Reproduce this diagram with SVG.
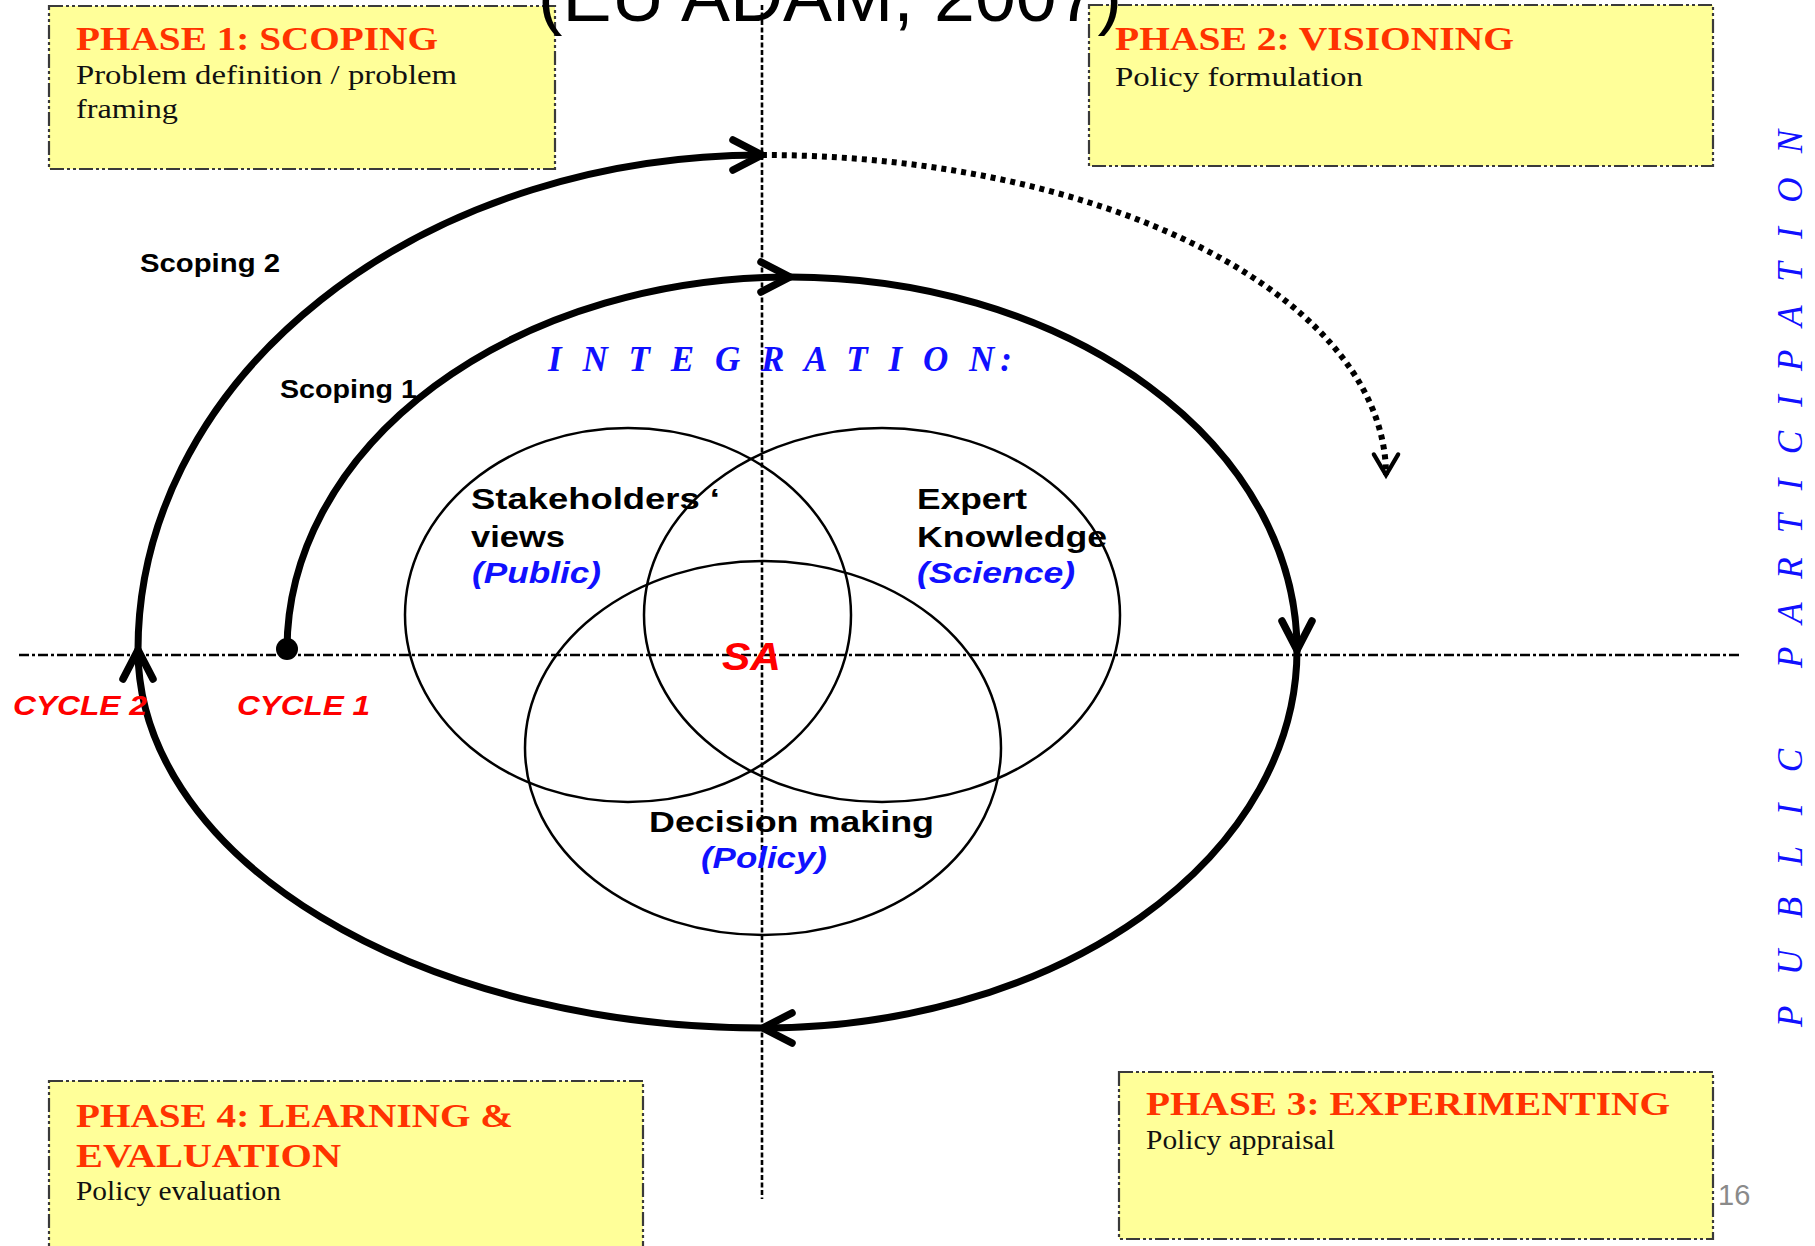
<svg xmlns="http://www.w3.org/2000/svg" width="1815" height="1246" viewBox="0 0 1815 1246">
  <style>
    .box { fill: #ffff99; stroke: #3a3a3a; stroke-width: 2.2; stroke-dasharray: 14 3 3 3 3 3; }
    .head { font-family: "Liberation Serif", "Times New Roman", serif; font-weight: bold; font-size: 34px; fill: #ff3300; }
    .body { font-family: "Liberation Serif", "Times New Roman", serif; font-size: 27px; fill: #111; }
    .lbl { font-family: "Liberation Sans", Arial, sans-serif; font-weight: bold; fill: #000; }
    .blue { font-family: "Liberation Sans", Arial, sans-serif; font-weight: bold; font-style: italic; fill: #1010ff; }
    .red { font-family: "Liberation Sans", Arial, sans-serif; font-weight: bold; font-style: italic; fill: #ff0000; }
    .venn { fill: none; stroke: #000; stroke-width: 2.5; }
    .spiral { fill: none; stroke: #000; stroke-width: 7; }
    .axis { fill: none; stroke: #000; stroke-width: 2.6; }
    .vert { font-family: "Liberation Serif", "Times New Roman", serif; font-style: italic; font-size: 35px; fill: #1010ff; }
  </style>
  <defs>
    <marker id="arrow" markerUnits="userSpaceOnUse" markerWidth="40" markerHeight="40" viewBox="-34 -20 40 40" refX="0" refY="0" orient="auto" overflow="visible">
      <path d="M -29 -15 L 0 0 L -29 15" fill="none" stroke="#000" stroke-width="7.5" stroke-linecap="round" stroke-linejoin="round"/>
    </marker>
    <marker id="arrowThin" markerUnits="userSpaceOnUse" markerWidth="30" markerHeight="30" viewBox="-26 -16 30 32" refX="0" refY="0" orient="auto" overflow="visible">
      <path d="M -22 -13 L 0 0 L -22 13" fill="none" stroke="#000" stroke-width="4.5" stroke-linecap="round"/>
    </marker>
  </defs>

  <rect width="1815" height="1246" fill="#ffffff"/>

  <!-- phase boxes -->
  <g id="phase1">
    <rect class="box" x="49" y="6" width="506" height="163"/>
    <text class="head" x="76" y="50" textLength="362" lengthAdjust="spacingAndGlyphs">PHASE 1: SCOPING</text>
    <text class="body" x="76" y="84" textLength="381" lengthAdjust="spacingAndGlyphs">Problem definition / problem</text>
    <text class="body" x="76" y="118" textLength="102" lengthAdjust="spacingAndGlyphs">framing</text>
  </g>
  <g id="phase2">
    <rect class="box" x="1089" y="5" width="624" height="161"/>
    <text class="head" x="1115" y="50" textLength="399" lengthAdjust="spacingAndGlyphs">PHASE 2: VISIONING</text>
    <text class="body" x="1115" y="86" textLength="248" lengthAdjust="spacingAndGlyphs">Policy formulation</text>
  </g>
  <g id="phase3">
    <rect class="box" x="1119" y="1072" width="594" height="167"/>
    <text class="head" x="1146" y="1115" textLength="524" lengthAdjust="spacingAndGlyphs">PHASE 3: EXPERIMENTING</text>
    <text class="body" x="1146" y="1149" textLength="189" lengthAdjust="spacingAndGlyphs">Policy appraisal</text>
  </g>
  <g id="phase4">
    <rect class="box" x="49" y="1081" width="594" height="190"/>
    <text class="head" x="76" y="1127" textLength="437" lengthAdjust="spacingAndGlyphs">PHASE 4: LEARNING &amp;</text>
    <text class="head" x="76" y="1167" textLength="265" lengthAdjust="spacingAndGlyphs">EVALUATION</text>
    <text class="body" x="76" y="1200" textLength="205" lengthAdjust="spacingAndGlyphs">Policy evaluation</text>
  </g>

  <!-- axes -->
  <g id="axes">
    <line class="axis" x1="19" y1="655" x2="1740" y2="655" stroke-dasharray="10 3 3 3"/>
    <line class="axis" x1="762" y1="5" x2="762" y2="1199" stroke-dasharray="5 2.5"/>
  </g>

  <!-- overlapping circles -->
  <g id="stakeholders">
    <ellipse class="venn" cx="628" cy="615" rx="223" ry="187"/>
    <text class="lbl" x="471" y="509" font-size="29" textLength="249" lengthAdjust="spacingAndGlyphs">Stakeholders ‘</text>
    <text class="lbl" x="471" y="547" font-size="29" textLength="94" lengthAdjust="spacingAndGlyphs">views</text>
    <text class="blue" x="472" y="583" font-size="29" textLength="129" lengthAdjust="spacingAndGlyphs">(Public)</text>
  </g>
  <g id="expert">
    <ellipse class="venn" cx="882" cy="615" rx="238" ry="187"/>
    <text class="lbl" x="917" y="509" font-size="29" textLength="110" lengthAdjust="spacingAndGlyphs">Expert</text>
    <text class="lbl" x="917" y="547" font-size="29" textLength="190" lengthAdjust="spacingAndGlyphs">Knowledge</text>
    <text class="blue" x="917" y="583" font-size="29" textLength="158" lengthAdjust="spacingAndGlyphs">(Science)</text>
  </g>
  <g id="decision">
    <ellipse class="venn" cx="763" cy="748" rx="238" ry="187"/>
    <text class="lbl" x="649" y="832" font-size="29" textLength="285" lengthAdjust="spacingAndGlyphs">Decision making</text>
    <text class="blue" x="701" y="868" font-size="29" textLength="126" lengthAdjust="spacingAndGlyphs">(Policy)</text>
  </g>
  <g id="sa">
    <text class="red" x="722" y="670" font-size="38" textLength="59" lengthAdjust="spacingAndGlyphs">SA</text>
  </g>

  <!-- spiral connectors -->
  <g id="connectors">
    <circle cx="287" cy="649" r="11" fill="#000"/>
    <path class="spiral" d="M 287 650 A 503 373 0 0 1 790 277" marker-end="url(#arrow)"/>
    <path class="spiral" d="M 790 277 A 507 373 0 0 1 1297 650" marker-end="url(#arrow)"/>
    <path class="spiral" d="M 1297 650 A 534 378 0 0 1 763 1028" marker-end="url(#arrow)"/>
    <path class="spiral" d="M 763 1028 A 625 378 0 0 1 138 650" marker-end="url(#arrow)"/>
    <path class="spiral" d="M 138 650 A 624 495 0 0 1 762 155" marker-end="url(#arrow)"/>
    <path d="M 762 155 A 624 320 0 0 1 1386 475" fill="none" stroke="#000" stroke-width="6" stroke-dasharray="5 5" marker-end="url(#arrowThin)"/>
  </g>

  <!-- labels on the spiral -->
  <g id="labels">
    <text class="lbl" x="140" y="272" font-size="26" textLength="140" lengthAdjust="spacingAndGlyphs">Scoping 2</text>
    <text class="lbl" x="280" y="398" font-size="26" textLength="137" lengthAdjust="spacingAndGlyphs">Scoping 1</text>
    <text class="red" x="13" y="715" font-size="28" textLength="134" lengthAdjust="spacingAndGlyphs">CYCLE 2</text>
    <text class="red" x="237" y="715" font-size="28" textLength="133" lengthAdjust="spacingAndGlyphs">CYCLE 1</text>
    <text x="548" y="371" font-family="'Liberation Serif', 'Times New Roman', serif" font-weight="bold" font-style="italic" font-size="35" fill="#1010ff" textLength="464" lengthAdjust="spacing">I N T E G R A T I O N:</text>
  </g>

  <!-- vertical side caption, read bottom to top -->
  <g id="participation" transform="translate(1802 1027) rotate(-90)">
    <text class="vert" x="0" y="0" textLength="278" lengthAdjust="spacing">P U B L I C</text>
    <text class="vert" x="359" y="0" textLength="538" lengthAdjust="spacing">P A R T I C I P A T I O N</text>
  </g>

  <g id="page">
    <text x="1718" y="1205" font-family="'Liberation Sans', Arial, sans-serif" font-size="29" fill="#8a8a8a">16</text>
  </g>

  <g id="title">
    <text x="538" y="21" font-family="'Liberation Sans', Arial, sans-serif" font-size="73" fill="#000" textLength="584" lengthAdjust="spacingAndGlyphs">(EU ADAM, 2007)</text>
  </g>
</svg>
